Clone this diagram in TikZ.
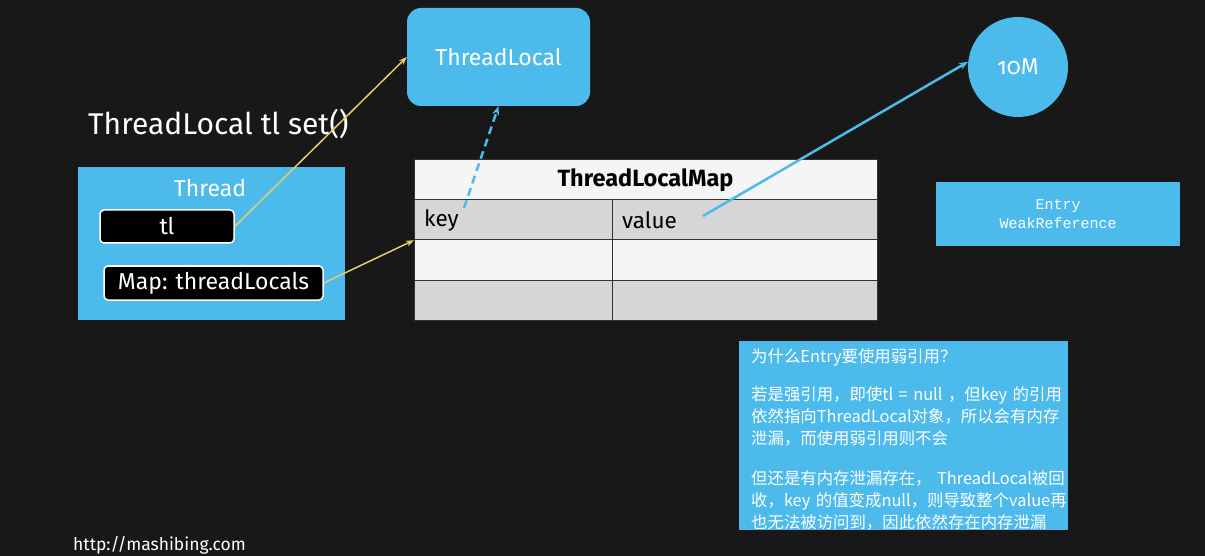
\documentclass[tikz,border=0pt]{standalone}
\usepackage{fontspec}
\setmainfont{Fira Sans}
\newfontfamily\cjk{Noto Sans CJK SC}
\newfontfamily\monof{Liberation Mono}
\usetikzlibrary{arrows.meta}
\definecolor{bg}{RGB}{24,24,24}
\definecolor{tlblue}{RGB}{77,186,236}
\definecolor{arrowyel}{RGB}{228,205,110}
\definecolor{rowgrey}{RGB}{214,214,214}
\definecolor{rowwhite}{RGB}{245,245,245}
\definecolor{gridline}{RGB}{50,50,50}
\tikzset{
  bluebox/.style={fill=tlblue, draw=none, text=white, inner sep=0pt},
  blackbox/.style={fill=black, draw=white, line width=1.5pt, rounded corners=4pt, text=white, inner sep=0pt, font=\fontsize{23}{26}\selectfont},
  cellwhite/.style={fill=rowwhite, draw=gridline, line width=1.2pt, anchor=north west, inner sep=0pt},
  cellgrey/.style={fill=rowgrey, draw=gridline, line width=1.2pt, anchor=north west, inner sep=0pt},
  yarrow/.style={draw=arrowyel, line width=1.5pt, -{Stealth[length=8pt,width=6pt]}},
  barrow/.style={draw=tlblue, line width=2.5pt, -{Stealth[length=9pt,width=7pt]}},
  bdash/.style={barrow, dash pattern=on 8pt off 5pt},
  whitetext/.style={text=white, inner sep=0pt}
}
\begin{document}
\begin{tikzpicture}[x=1pt,y=-1pt]
\fill[bg] (0,0) rectangle (1205,556);
\useasboundingbox (0,0) rectangle (1205,556);

% title
\node[whitetext, anchor=west, font=\fontsize{30}{34}\selectfont] (title) at (88,124) {ThreadLocal tl set()};

% ThreadLocal object
\node[bluebox, rounded corners=14pt, minimum width=183pt, minimum height=98pt, font=\fontsize{23}{26}\selectfont] (tlobj) at (498.5,57) {ThreadLocal};

% 10M circle
\node[bluebox, circle, minimum size=100pt, font=\fontsize{23}{26}\selectfont\addfontfeatures{Numbers=OldStyle}] (tenm) at (1018,67) {10M};

% Thread box
\node[bluebox, anchor=north west, minimum width=267pt, minimum height=153pt] (thread) at (78,167) {};
\node[whitetext, font=\fontsize{23}{26}\selectfont] (threadlbl) at (210,188) {Thread};
\node[blackbox, minimum width=134pt, minimum height=33pt] (tl) at (167,226.5) {tl};
\node[blackbox, minimum width=219pt, minimum height=34pt] (map) at (213.5,283) {Map: threadLocals};

% ThreadLocalMap table
\node[cellwhite, minimum width=463pt, minimum height=40pt] (hdr) at (414,159) {};
\node[inner sep=0pt, font=\fontsize{23.5}{26}\selectfont\bfseries, text=black] (hdrtxt) at (645.5,180) {ThreadLocalMap};
\node[cellgrey, minimum width=198pt, minimum height=40pt] (keycell) at (414,199) {};
\node[cellgrey, minimum width=265pt, minimum height=40pt] (valcell) at (612,199) {};
\node[cellwhite, minimum width=198pt, minimum height=41pt] (k2) at (414,239) {};
\node[cellwhite, minimum width=265pt, minimum height=41pt] (v2) at (612,239) {};
\node[cellgrey, minimum width=198pt, minimum height=40pt] (k3) at (414,280) {};
\node[cellgrey, minimum width=265pt, minimum height=40pt] (v3) at (612,280) {};
\node[inner sep=0pt, anchor=west, font=\fontsize{22.5}{26}\selectfont, text=black] (keytxt) at (424,220) {key};
\node[inner sep=0pt, anchor=west, font=\fontsize{22.5}{26}\selectfont, text=black] (valtxt) at (622,220) {value};

% Entry box
\node[bluebox, anchor=north west, minimum width=244pt, minimum height=64pt, align=center, font=\monof\fontsize{15}{19}\selectfont] (entry) at (936,182) {Entry\\WeakReference};

% note box
\node[bluebox, anchor=north west, minimum width=329pt, minimum height=189pt] (note) at (739,341) {};
\node[whitetext, anchor=north west, text width=340pt, align=left, font=\cjk\fontsize{16.4}{22}\selectfont] (notetxt) at (751,348) {%
为什么Entry要使用弱引用？\\[16pt]
若是强引用，即使tl = null ，但key 的引用\\
依然指向ThreadLocal对象，所以会有内存\\
泄漏，而使用弱引用则不会\\[18pt]
但还是有内存泄漏存在， ThreadLocal被回\\
收，key 的值变成null，则导致整个value再\\
也无法被访问到，因此依然存在内存泄漏};

% url
\node[whitetext, anchor=west, font=\fontsize{17.5}{20}\selectfont] (url) at (73,545) {http://mashibing.com};

% connectors
\coordinate (keyref) at (464,208);
\coordinate (valref) at (703,216);
\draw[yarrow] (tl.east) -- (tlobj.west);
\draw[yarrow] (map.east) -- (keycell.south west);
\draw[bdash] (keyref) -- (tlobj.south);
\draw[barrow] (valref) -- (tenm.174);
\end{tikzpicture}
\end{document}
